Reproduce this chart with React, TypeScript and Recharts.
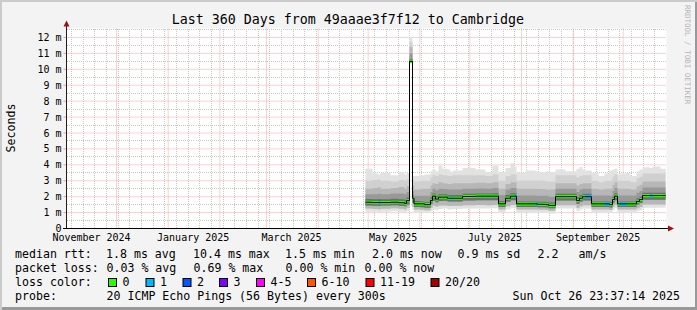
import React from "react";
import { ComposedChart, Area, Line, XAxis, YAxis, CartesianGrid } from "recharts";

const MONO = "'DejaVu Sans Mono', monospace";
const T0 = Date.UTC(2024, 9, 31, 23, 37, 14);
const dayOf = (y: number, m: number, d: number) => (Date.UTC(y, m - 1, d) - T0) / 86400000;

// sample times, in days since the start of the graph
const days = [
  179.4, 183.6, 187.2, 188.4, 194.4, 199.2, 202.8, 204.0, 205.8, 207.6,
  208.5, 212.4, 214.8, 218.4, 219.6, 221.4, 223.2, 225.6, 228.6, 230.4,
  231.6, 237.6, 245.4, 251.4, 255.6, 259.2, 263.4, 266.4, 268.8, 270.0,
  275.4, 281.4, 282.6, 287.4, 289.2, 293.4, 299.4, 306.0, 307.8, 309.6,
  310.8, 315.0, 319.2, 322.8, 325.8, 327.6, 328.8, 330.6, 331.8, 336.0,
  338.4, 342.0, 343.8, 345.6, 349.8, 351.6, 356.4, 359.4,
];
// median rtt, ms
const medRtt = [
  1.65, 1.63, 1.63, 1.63, 1.65, 1.62, 1.58, 1.75, 10.5, 1.9,
  1.55, 1.55, 1.5, 1.76, 2.03, 1.85, 1.97, 1.97, 1.9, 1.9,
  1.9, 2.01, 2.03, 2.03, 2.03, 1.55, 1.9, 2.03, 2.03, 1.55,
  1.55, 1.55, 1.52, 1.5, 1.45, 2.0, 2.0, 1.76, 1.9, 2.0,
  2.0, 1.55, 1.55, 1.55, 1.5, 1.82, 2.03, 1.55, 1.55, 1.55,
  1.55, 1.7, 1.82, 2.07, 2.07, 2.07, 2.07, 2.07,
];
// lost pings per sample
const lossIdx = [
  0, 0, 1, 0, 0, 0, 0, 0, 0, 0,
  0, 0, 0, 0, 0, 0, 0, 0, 0, 1,
  0, 0, 0, 0, 0, 0, 0, 0, 1, 0,
  0, 1, 0, 0, 0, 0, 0, 0, 0, 0,
  1, 0, 0, 1, 0, 0, 0, 0, 1, 0,
  0, 0, 0, 0, 1, 0, 0, 0,
];
// smoke: spread of the 20 pings
const smokeLo = [
  1.05, 1.05, 1.02, 1.05, 1.08, 1.05, 1.0, 1.1, 10.35, 1.15,
  1.0, 1.0, 0.98, 1.1, 1.2, 1.15, 1.22, 1.25, 1.2, 1.2,
  1.22, 1.25, 1.26, 1.25, 1.27, 1.0, 1.2, 1.27, 1.27, 1.0,
  1.0, 1.0, 0.98, 0.97, 0.95, 1.25, 1.25, 1.1, 1.2, 1.25,
  1.25, 1.0, 1.0, 1.0, 0.97, 1.15, 1.27, 1.0, 1.0, 1.0,
  1.0, 1.08, 1.15, 1.3, 1.3, 1.3, 1.3, 1.3,
];
const smokeL1 = [
  1.25, 1.22, 1.2, 1.24, 1.27, 1.24, 1.2, 1.3, 10.4, 1.35,
  1.2, 1.18, 1.15, 1.3, 1.45, 1.38, 1.45, 1.45, 1.42, 1.42,
  1.43, 1.46, 1.47, 1.46, 1.48, 1.2, 1.4, 1.48, 1.48, 1.2,
  1.2, 1.2, 1.18, 1.17, 1.12, 1.46, 1.46, 1.3, 1.4, 1.46,
  1.46, 1.2, 1.2, 1.2, 1.17, 1.35, 1.48, 1.2, 1.2, 1.2,
  1.2, 1.28, 1.35, 1.5, 1.5, 1.5, 1.5, 1.5,
];
const smokeL0 = [
  1.45, 1.43, 1.42, 1.44, 1.46, 1.43, 1.4, 1.5, 10.45, 1.6,
  1.35, 1.34, 1.3, 1.55, 1.75, 1.65, 1.72, 1.74, 1.7, 1.7,
  1.7, 1.76, 1.78, 1.77, 1.78, 1.35, 1.68, 1.78, 1.78, 1.35,
  1.35, 1.35, 1.33, 1.32, 1.28, 1.76, 1.76, 1.55, 1.68, 1.76,
  1.76, 1.35, 1.35, 1.35, 1.32, 1.6, 1.78, 1.35, 1.35, 1.35,
  1.35, 1.5, 1.6, 1.8, 1.8, 1.8, 1.8, 1.8,
];
const smokeU0 = [
  1.85, 1.83, 1.85, 1.84, 1.87, 1.84, 1.8, 1.95, 10.65, 2.07,
  1.72, 1.7, 1.67, 1.96, 2.2, 2.05, 2.15, 2.15, 2.1, 2.1,
  2.1, 2.18, 2.2, 2.2, 2.21, 1.72, 2.1, 2.21, 2.21, 1.7,
  1.7, 1.7, 1.68, 1.67, 1.63, 2.18, 2.18, 1.96, 2.1, 2.18,
  2.18, 1.7, 1.7, 1.7, 1.67, 2.0, 2.21, 1.7, 1.7, 1.7,
  1.7, 1.9, 2.0, 2.25, 2.25, 2.25, 2.25, 2.25,
];
const smokeU1 = [
  2.15, 2.15, 2.2, 2.15, 2.2, 2.2, 2.15, 2.3, 11.0, 2.35,
  2.05, 2.05, 2.05, 2.3, 2.5, 2.4, 2.5, 2.48, 2.45, 2.45,
  2.45, 2.5, 2.52, 2.5, 2.55, 2.1, 2.45, 2.55, 2.55, 2.07,
  2.07, 2.07, 2.05, 2.05, 2.0, 2.5, 2.5, 2.3, 2.45, 2.5,
  2.5, 2.07, 2.07, 2.07, 2.05, 2.35, 2.55, 2.07, 2.07, 2.07,
  2.07, 2.25, 2.35, 2.58, 2.58, 2.58, 2.58, 2.58,
];
const smokeU2 = [
  2.5, 2.55, 2.6, 2.5, 2.55, 2.6, 2.5, 2.65, 11.4, 2.7,
  2.45, 2.5, 2.5, 2.7, 2.85, 2.8, 2.9, 2.85, 2.8, 2.8,
  2.85, 2.85, 2.88, 2.85, 2.9, 2.5, 2.8, 2.9, 2.9, 2.5,
  2.5, 2.5, 2.48, 2.45, 2.45, 2.85, 2.85, 2.7, 2.8, 2.85,
  2.85, 2.5, 2.45, 2.5, 2.5, 2.75, 2.9, 2.5, 2.5, 2.5,
  2.45, 2.65, 2.75, 2.95, 2.95, 2.95, 2.95, 2.95,
];
const smokeU3 = [
  3.0, 3.05, 3.1, 3.0, 2.95, 3.05, 3.0, 3.1, 11.7, 3.05,
  2.95, 3.0, 3.0, 3.2, 3.35, 3.3, 3.4, 3.35, 3.3, 3.3,
  3.35, 3.35, 3.35, 3.3, 3.4, 3.0, 3.3, 3.4, 3.4, 3.0,
  3.0, 3.0, 3.0, 2.95, 2.95, 3.35, 3.35, 3.2, 3.3, 3.35,
  3.35, 3.0, 2.9, 3.0, 3.0, 3.25, 3.4, 3.0, 3.0, 3.0,
  2.9, 3.15, 3.25, 3.45, 3.45, 3.45, 3.45, 3.45,
];
const smokeHi = [
  3.75, 3.45, 3.4, 3.5, 3.35, 3.55, 3.4, 3.5, 12.05, 3.3,
  3.3, 3.35, 3.4, 3.6, 3.7, 3.6, 3.96, 3.75, 3.7, 3.55,
  3.65, 3.8, 3.7, 3.55, 3.96, 3.55, 3.8, 4.1, 3.9, 3.5,
  3.65, 3.6, 3.55, 3.6, 3.55, 3.7, 3.6, 3.75, 3.86, 3.7,
  3.65, 3.5, 3.3, 3.45, 3.65, 3.7, 3.75, 3.4, 3.45, 3.5,
  3.3, 3.6, 3.7, 3.85, 3.8, 3.9, 3.75, 3.75,
];

const yTicks = [0, 1, 2, 3, 4, 5, 6, 7, 8, 9, 10, 11, 12];
const halfTicks = [0.5, 1.5, 2.5, 3.5, 4.5, 5.5, 6.5, 7.5, 8.5, 9.5, 10.5, 11.5, 12.5];
const labelMonths: [number, number][] = [[2024, 11], [2025, 1], [2025, 3], [2025, 5], [2025, 7], [2025, 9]];
const labelNames = ["November 2024", "January 2025", "March 2025", "May 2025", "July 2025", "September 2025"];
const gridMonths: [number, number][] = [
  [2024, 12], [2025, 1], [2025, 2], [2025, 3], [2025, 4], [2025, 5],
  [2025, 6], [2025, 7], [2025, 8], [2025, 9], [2025, 10],
];

const labelTicks = labelMonths.map(([y, m]) => dayOf(y, m, 16));
const monthTicks = gridMonths.map(([y, m]) => dayOf(y, m, 1));
const weekTicks: number[] = [];
for (let d = dayOf(2024, 11, 4); d < 360; d += 7) weekTicks.push(d);

const TITLE = "Last 360 Days from 49aaae3f7f12 to Cambridge";
const lossNames = ["0", "1", "2", "3", "4-5", "6-10", "11-19", "20/20"];
const lossColors = ["#26ff00", "#00b8ff", "#0059ff", "#7e00ff", "#ff00ff", "#ff5500", "#ff0000", "#a10000"];
const rttItems = ["median rtt:", "1.8 ms avg", "10.4 ms max", "1.5 ms min", "2.0 ms now", "0.9 ms sd", "2.2", "am/s"];
const lossItems = ["packet loss:", "0.03 % avg", "0.69 % max", "0.00 % min", "0.00 % now"];
const probeItems = ["probe:", "20 ICMP Echo Pings (56 Bytes) every 300s", "Sun Oct 26 23:37:14 2025"];

const rttX = [15, 106, 193, 285, 372, 457.5, 537.5, 578.5];
const lossX = [15, 106.5, 193.5, 285.5, 364.5];
const boxX = [108, 145.5, 182.5, 219, 256, 307, 365.5, 430.5];
const probeX = [15, 106.5, 512.5];

const BAND = 0.1;
const rows = days.map((day, i) => {
  const m = medRtt[i];
  const band = [m - BAND, m + BAND];
  return {
    day,
    med: m,
    outer: [smokeLo[i], smokeHi[i]],
    s1: [smokeL1[i], smokeU3[i]],
    s2: [smokeL1[i], smokeU2[i]],
    s3: [smokeL0[i], smokeU1[i]],
    s4: [smokeL0[i], smokeU0[i]],
    green: band,
    blue: lossIdx[i] === 1 || lossIdx[i - 1] === 1 ? band : null,
  };
});

const smokeLayers = [
  { key: "outer", fill: "#e2e2e2" },
  { key: "s1", fill: "#d0d0d0" },
  { key: "s2", fill: "#b7b7b7" },
  { key: "s3", fill: "#999999" },
  { key: "s4", fill: "#6e6e6e" },
];

export default function App() {
  return (
    <div
      style={{
        position: "absolute",
        left: 0,
        top: 0,
        width: 697,
        height: 310,
        background: "#f3f3f3",
        boxShadow: "inset 2px 2px 0 #cbcbcb, inset -2px -3px 0 #999999",
        fontFamily: MONO,
      }}
    >
      <div style={{ position: "absolute", left: 0, top: 0 }}>
        <ComposedChart
          width={697}
          height={310}
          data={rows}
          margin={{ top: 28.5, right: 30.5, bottom: 61.5, left: 0 }}
        >
          <XAxis
            xAxisId="t"
            dataKey="day"
            type="number"
            domain={[0, 360]}
            allowDataOverflow
            ticks={labelTicks}
            interval={0}
            tickFormatter={(_v: number, i: number) => labelNames[i]}
            tickLine={false}
            tickSize={0}
            tickMargin={5}
            axisLine={false}
            height={20}
            tick={{ fontSize: 10, fill: "#000", fontFamily: MONO }}
          />
          <YAxis
            yAxisId="ms"
            type="number"
            domain={[0, 12.565]}
            allowDataOverflow
            ticks={yTicks}
            interval={0}
            width={66.5}
            tickSize={3}
            tickMargin={2}
            tickLine={{ stroke: "#e9a0a0" }}
            axisLine={false}
            tickFormatter={(v: number) => (v === 0 ? "0" : `${v} m`)}
            tick={{ fontSize: 10, fill: "#000", fontFamily: MONO }}
          />

          <CartesianGrid xAxisId="t" yAxisId="ms" horizontal={false} vertical={false} fill="#ffffff" />

          {smokeLayers.map((l) => (
            <Area
              key={l.key}
              xAxisId="t"
              yAxisId="ms"
              type="stepAfter"
              dataKey={l.key}
              fill={l.fill}
              fillOpacity={1}
              stroke="none"
              isAnimationActive={false}
            />
          ))}

          <CartesianGrid
            xAxisId="t"
            yAxisId="ms"
            fill="none"
            stroke="#c8c8c8"
            strokeDasharray="1 1"
            shapeRendering="crispEdges"
            verticalValues={weekTicks}
            horizontalValues={halfTicks}
          />
          <CartesianGrid
            xAxisId="t"
            yAxisId="ms"
            fill="none"
            stroke="#f2a6a6"
            strokeDasharray="1 1"
            verticalValues={monthTicks}
            horizontalValues={yTicks.slice(1)}
          />

          <Line
            xAxisId="t"
            yAxisId="ms"
            type="stepAfter"
            dataKey="med"
            stroke="#000"
            strokeWidth={1}
            dot={false}
            isAnimationActive={false}
          />
          <Area xAxisId="t" yAxisId="ms" type="stepAfter" dataKey="green" fill={lossColors[0]} fillOpacity={1} stroke="none" isAnimationActive={false} />
          <Area xAxisId="t" yAxisId="ms" type="stepAfter" dataKey="blue" fill={lossColors[1]} fillOpacity={1} stroke="none" isAnimationActive={false} />
        </ComposedChart>
      </div>

      <svg width={697} height={310} style={{ position: "absolute", left: 0, top: 0, pointerEvents: "none" }} fontFamily={MONO}>
        <text x={347.8} y={24} fontSize={13.3} textAnchor="middle" fill="#000">{TITLE}</text>
        <text transform="translate(14.5,128) rotate(-90)" fontSize={11.6} textAnchor="middle" fill="#000">Seconds</text>
        <text transform="translate(685,5) rotate(90)" fontSize={7.5} fill="#b5b5b5">RRDTOOL / TOBI OETIKER</text>

        {/* axes with arrows */}
        <line x1={66.5} y1={229} x2={66.5} y2={25} stroke="#2a1a1a" />
        <line x1={63} y1={228.5} x2={669} y2={228.5} stroke="#000" />
        <polygon points="63.5,26.5 69.5,26.5 66.5,20.5" fill="#a01010" />
        <polygon points="668,225.5 668,231.5 674,228.5" fill="#a01010" />

        <g fontSize={11.6} fill="#000">
          {rttItems.map((s, i) => (
            <text key={"r" + i} x={rttX[i]} y={258}>{s}</text>
          ))}
          {lossItems.map((s, i) => (
            <text key={"l" + i} x={lossX[i]} y={272}>{s}</text>
          ))}
          <text x={15} y={286}>loss color:</text>
          {lossNames.map((s, i) => (
            <g key={"b" + i}>
              <rect x={boxX[i] + 0.5} y={278.5} width={8} height={8} fill={lossColors[i]} stroke="#000" />
              <text x={boxX[i] + 14.5} y={286}>{s}</text>
            </g>
          ))}
          {probeItems.map((s, i) => (
            <text key={"p" + i} x={probeX[i]} y={300}>{s}</text>
          ))}
        </g>
      </svg>
    </div>
  );
}
